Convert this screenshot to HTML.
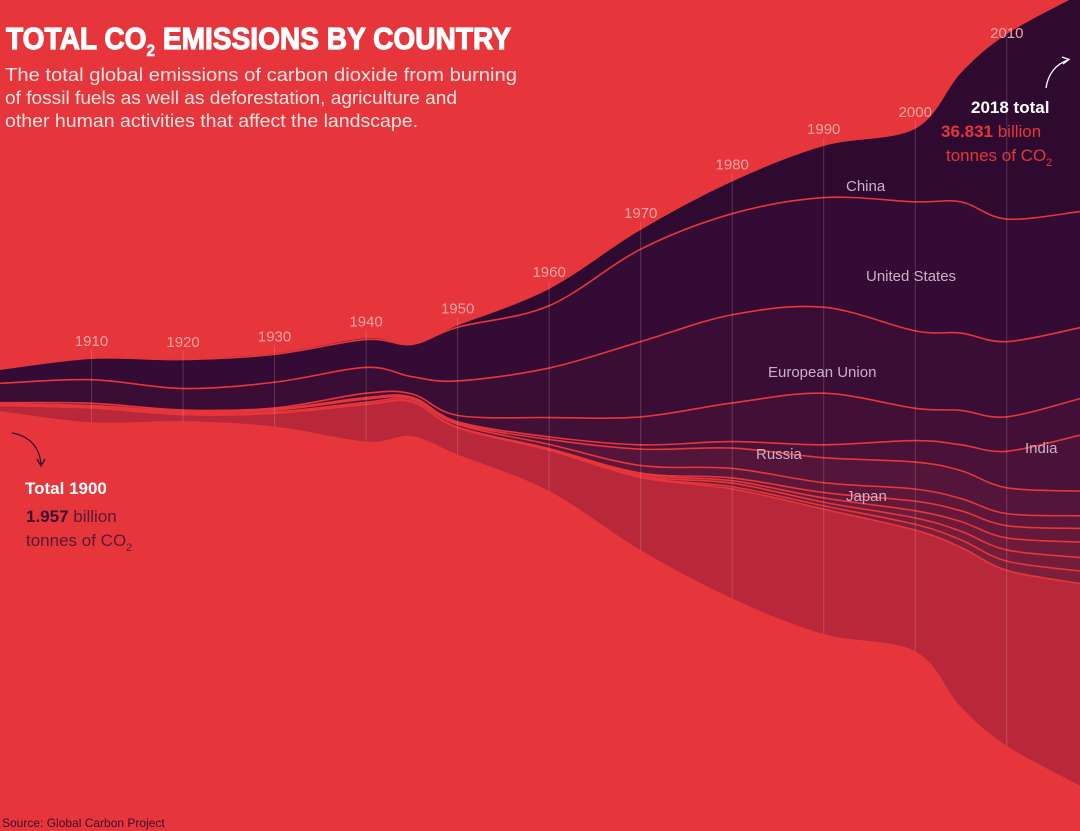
<!DOCTYPE html>
<html><head><meta charset="utf-8">
<style>
html,body{margin:0;padding:0;background:#e6363b;}
svg{display:block;font-family:"Liberation Sans",sans-serif;}
</style></head>
<body>
<svg id="chart" width="1080" height="831" viewBox="0 0 1080 831" xmlns="http://www.w3.org/2000/svg">
<rect width="1080" height="831" fill="#e6363b"/>
<g id="layers"></g>
<g id="lines"></g>
<g id="years"></g>

<text x="6" y="49" fill="#fff" font-family="'Liberation Sans Narrow','Liberation Sans',sans-serif" font-weight="bold" font-size="31" stroke="#fff" stroke-width="1.2" textLength="505" lengthAdjust="spacingAndGlyphs">TOTAL CO<tspan font-size="17" dy="7" stroke-width="0.6">2</tspan><tspan dy="-7"> EMISSIONS BY COUNTRY</tspan></text>
<g fill="#fbe3e3" font-size="18.5">
<text x="5" y="81" textLength="512" lengthAdjust="spacingAndGlyphs">The total global emissions of carbon dioxide from burning</text>
<text x="5" y="104" textLength="452" lengthAdjust="spacingAndGlyphs">of fossil fuels as well as deforestation, agriculture and</text>
<text x="5" y="127" textLength="413" lengthAdjust="spacingAndGlyphs">other human activities that affect the landscape.</text>
</g>

<g fill="#cdb0c8" font-size="15">
<text x="846" y="191">China</text>
<text x="866" y="281">United States</text>
<text x="768" y="377">European Union</text>
<text x="756" y="459">Russia</text>
<text x="846" y="501">Japan</text>
<text x="1025" y="453">India</text>
</g>

<g>
<path d="M1046,88 C1048,74 1056,64 1068,60" fill="none" stroke="#fff" stroke-width="1.3"/>
<path d="M1062,57 L1069,59.5 L1063,64" fill="none" stroke="#fff" stroke-width="1.3"/>
<text x="971" y="113" fill="#fff" font-weight="bold" font-size="17">2018 total</text>
<text x="941" y="137" fill="#e6363b" font-size="17"><tspan font-weight="bold">36.831</tspan> billion</text>
<text x="946" y="161" fill="#e6363b" font-size="17">tonnes of CO<tspan font-size="11" dy="5">2</tspan></text>
</g>
<g>
<path d="M12,433 C30,436 40,448 41,465" fill="none" stroke="#3a0c30" stroke-width="1.3"/>
<path d="M37,459 L41,466 L45,459" fill="none" stroke="#3a0c30" stroke-width="1.3"/>
<text x="25" y="494" fill="#fff" font-weight="bold" font-size="17">Total 1900</text>
<text x="26" y="522" fill="#5a1834" font-size="17"><tspan font-weight="bold" fill="#3a0c30">1.957</tspan> billion</text>
<text x="26" y="546" fill="#5a1834" font-size="17">tonnes of CO<tspan font-size="11" dy="5">2</tspan></text>
</g>
<text x="2" y="827" fill="#3a0c30" font-size="12">Source: Global Carbon Project</text>
</svg>
<script>
const years = [1900,1910,1920,1930,1940,1945,1950,1960,1970,1980,1990,2000,2005,2010,2018];
const totalEmissions = [1.96,3.0,2.9,3.4,4.8,4.3,6.0,9.4,14.9,19.4,22.7,24.3,29.5,33.1,36.8];
const seriesNames = ["China","United States","European Union","Russia","India","Japan","Canada","South Korea","Iran","Saudi Arabia","Indonesia"];
const china = [0.01,0.02,0.03,0.04,0.05,0.03,0.08,0.78,0.9,1.5,2.4,3.4,6.0,8.6,10.1];
const usa = [0.66,1.0,1.35,1.3,1.3,1.5,2.5,2.9,4.3,4.7,5.1,6.0,6.1,5.7,5.4];
const eu = [0.9,1.1,1.0,1.2,1.2,0.8,1.6,2.3,3.5,4.1,4.0,3.6,3.6,3.5,3.3];
const russia = [0.06,0.1,0.05,0.05,0.2,0.15,0.3,0.9,1.3,1.8,2.4,1.5,1.6,1.6,1.7];
const india = [0.02,0.03,0.04,0.05,0.07,0.07,0.07,0.12,0.2,0.3,0.6,1.0,1.2,1.7,2.6];
const japan = [0.01,0.03,0.06,0.08,0.15,0.03,0.05,0.23,0.76,0.95,1.16,1.26,1.3,1.2,1.15];
const canada = [0.03,0.05,0.06,0.06,0.08,0.09,0.12,0.2,0.35,0.44,0.46,0.56,0.57,0.56,0.59];
const korea = [0,0,0,0,0.01,0.01,0.01,0.01,0.05,0.13,0.25,0.45,0.5,0.57,0.63];
const iran = [0,0,0,0,0,0.01,0.01,0.03,0.08,0.11,0.2,0.33,0.45,0.56,0.72];
const saudi = [0,0,0,0,0,0,0.01,0.01,0.05,0.17,0.17,0.3,0.4,0.52,0.63];
const indonesia = [0,0,0,0,0.01,0.01,0.01,0.02,0.03,0.1,0.15,0.27,0.35,0.43,0.58];
const yearTicks = [1910,1920,1930,1940,1950,1960,1970,1980,1990,2000,2010];

const NS = "http://www.w3.org/2000/svg";
const xScale = y => (y - 1900) / (2018 - 1900) * 1080;
const K = 21.5, CENTER = 390;
const series = [china,usa,eu,russia,india,japan,canada,korea,iran,saudi,indonesia];
const rest = totalEmissions.map((t,i)=>Math.max(0, t - series.reduce((s,a)=>s+a[i],0)));
const all = series.concat([rest]);
const bounds = [totalEmissions.map(t => CENTER - t*K/2)];
all.forEach((s,k)=>{ bounds.push(bounds[k].map((v,i)=>v + s[i]*K)); });

function curve(pts){
  let d = "M"+pts[0][0]+","+pts[0][1];
  for(let i=0;i<pts.length-1;i++){
    const p0=pts[Math.max(0,i-1)],p1=pts[i],p2=pts[i+1],p3=pts[Math.min(pts.length-1,i+2)];
    const c1=[p1[0]+(p2[0]-p0[0])/6,p1[1]+(p2[1]-p0[1])/6];
    const c2=[p2[0]-(p3[0]-p1[0])/6,p2[1]-(p3[1]-p1[1])/6];
    d+=" C"+c1[0]+","+c1[1]+" "+c2[0]+","+c2[1]+" "+p2[0]+","+p2[1];
  }
  return d;
}
function ptsOf(b){ return years.map((y,i)=>[xScale(y), b[i]]); }
function revCurve(pts){ const r=pts.slice().reverse(); return curve(r).replace(/^M/,"L"); }
function interp(b, yr){
  for(let i=0;i<years.length-1;i++){
    if(yr>=years[i]&&yr<=years[i+1]){const t=(yr-years[i])/(years[i+1]-years[i]);return b[i]+(b[i+1]-b[i])*t;}
  }
  return b[b.length-1];
}
const colors = ["#2e0a30","#330b34","#3a0d36","#421037","#4a1238","#531539","#5c173a","#64193a","#6c1b3b","#741d3b","#7c1f3b","#b8283a"];
const layersG = document.getElementById("layers");
const linesG = document.getElementById("lines");
all.forEach((s,k)=>{
  const top = ptsOf(bounds[k]), bot = ptsOf(bounds[k+1]);
  const p = document.createElementNS(NS,"path");
  p.setAttribute("d", curve(top)+" "+revCurve(bot)+" Z");
  p.setAttribute("fill", colors[k]);
  
  
  layersG.appendChild(p);
  if(k>0){
    const l = document.createElementNS(NS,"path");
    l.setAttribute("d", curve(top));
    l.setAttribute("fill","none");
    l.setAttribute("stroke","#e6363b");
    l.setAttribute("stroke-width","1.6");
    
    
    linesG.appendChild(l);
  }
});
const yearsG = document.getElementById("years");
yearTicks.forEach(yr=>{
  const x = xScale(yr), t = interp(bounds[0], yr), b = interp(bounds[bounds.length-1], yr);
  const ln = document.createElementNS(NS,"line");
  ln.setAttribute("x1",x); ln.setAttribute("x2",x);
  ln.setAttribute("y1",t-8); ln.setAttribute("y2",b);
  ln.setAttribute("stroke","rgba(255,190,190,0.22)");
  ln.setAttribute("stroke-width","1");
  
  
  yearsG.appendChild(ln);
  const tx = document.createElementNS(NS,"text");
  tx.setAttribute("x",x); tx.setAttribute("y",Math.max(38,t-12));
  tx.setAttribute("text-anchor","middle");
  tx.setAttribute("fill","#f7a3a6");
  tx.setAttribute("font-size","15");
  tx.textContent = yr;
  
  
  yearsG.appendChild(tx);
});
</script>
</body></html>
